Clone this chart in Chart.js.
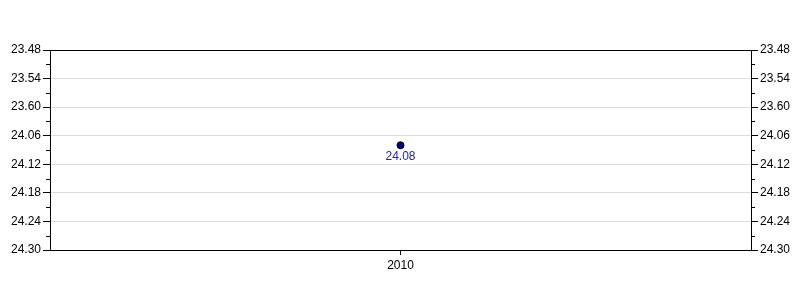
<!DOCTYPE html>
<html>
<head>
<meta charset="utf-8">
<script src="https://cdn.jsdelivr.net/npm/chart.js@4"></script>
<style>
  html, body { margin: 0; padding: 0; background: #fff; }
  #wrap { width: 800px; height: 300px; }
</style>
</head>
<body>
<div id="wrap"><canvas id="myChart"></canvas></div>
<script>
// chart data
const years = ['2010'];
const times = [24.08]; // min.sec style values as printed
const tickLabels = ['23.48', '23.54', '23.60', '24.06', '24.12', '24.18', '24.24', '24.30'];

// "24.08" -> minutes count so the axis is linear
function toUnits(v) {
    const s = v.toFixed(2).split('.');
    return parseInt(s[0], 10) * 60 + parseInt(s[1], 10);
}
const tickUnits = tickLabels.map(t => toUnits(parseFloat(t)));
const yMin = tickUnits[0];
const yMax = tickUnits[tickUnits.length - 1];

function labelFor(value) {
    const i = tickUnits.indexOf(value);
    return i >= 0 ? tickLabels[i] : '';
}

const font = { family: 'Liberation Sans, Arial, sans-serif', size: 12 };

function gridColor(ctx) {
    const v = ctx.tick ? ctx.tick.value : null;
    if (v === yMin || v === yMax) return '#000';
    return tickUnits.indexOf(v) >= 0 ? '#dcdcdc' : 'rgba(0,0,0,0)';
}
function tickColor(ctx) {
    const v = ctx.tick ? ctx.tick.value : null;
    return tickUnits.indexOf(v) >= 0 ? '#000' : 'rgba(0,0,0,0)';
}

// minor tick marks between labelled ticks
const minorTicks = {
    id: 'minorTicks',
    afterDraw(chart) {
        const c = chart.ctx;
        c.save();
        c.strokeStyle = '#000';
        c.lineWidth = 1;
        ['y', 'y2'].forEach(id => {
            const s = chart.scales[id];
            for (let i = 0; i < tickUnits.length - 1; i++) {
                const y = Math.round(s.getPixelForValue((tickUnits[i] + tickUnits[i + 1]) / 2)) + 0.5;
                c.beginPath();
                if (id === 'y') { c.moveTo(s.right - 4, y); c.lineTo(s.right, y); }
                else { c.moveTo(s.left, y); c.lineTo(s.left + 4, y); }
                c.stroke();
            }
        });
        c.restore();
    }
};

// value label under the point
const pointLabels = {
    id: 'pointLabels',
    afterDatasetsDraw(chart) {
        const c = chart.ctx;
        const meta = chart.getDatasetMeta(0);
        c.save();
        c.fillStyle = '#2424a8';
        c.font = '12px Liberation Sans, Arial, sans-serif';
        c.textAlign = 'center';
        c.textBaseline = 'top';
        meta.data.forEach((pt, i) => {
            c.fillText(times[i].toFixed(2), pt.x, pt.y + 5);
        });
        c.restore();
    }
};

const ctx = document.getElementById('myChart').getContext('2d');
new Chart(ctx, {
    type: 'line',
    data: {
        labels: years,
        datasets: [{
            data: times.map(toUnits),
            yAxisID: 'y',
            showLine: false,
            pointRadius: 3.5,
            pointBackgroundColor: '#000080',
            pointBorderColor: '#000',
            pointBorderWidth: 1
        }]
    },
    options: {
        responsive: true,
        maintainAspectRatio: false,
        animation: false,
        events: [],
        layout: { padding: { top: 50, right: 0, bottom: 0, left: 0 } },
        plugins: { legend: { display: false }, tooltip: { enabled: false } },
        scales: {
            x: {
                offset: true,
                border: { color: '#000', width: 1 },
                grid: { drawOnChartArea: false, drawTicks: true, tickLength: 5, color: '#000' },
                ticks: { color: '#000', font: font, padding: 3 },
                afterFit(s) { s.height = 50; }
            },
            y: {
                position: 'left',
                reverse: true,
                min: yMin,
                max: yMax,
                border: { color: '#000', width: 1 },
                grid: { color: gridColor, tickColor: tickColor, tickLength: 7 },
                ticks: { stepSize: 3, autoSkip: false, color: '#000', font: font, padding: 2, callback: v => labelFor(v) },
                afterFit(s) { s.width = 50; }
            },
            y2: {
                position: 'right',
                reverse: true,
                min: yMin,
                max: yMax,
                border: { color: '#000', width: 1 },
                grid: { drawOnChartArea: false, tickColor: tickColor, tickLength: 7 },
                ticks: { stepSize: 3, autoSkip: false, color: '#000', font: font, padding: 2, callback: v => labelFor(v) },
                afterFit(s) { s.width = 49; }
            }
        }
    },
    plugins: [minorTicks, pointLabels]
});
</script>
</body>
</html>
